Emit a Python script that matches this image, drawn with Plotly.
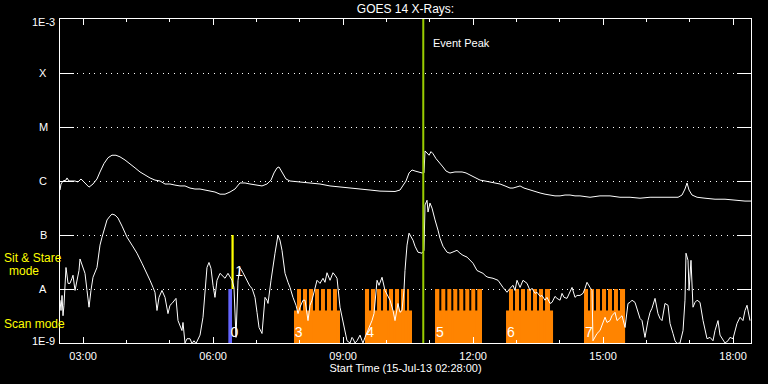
import math
from datetime import datetime, timedelta
import plotly.graph_objects as go

# ---------------- data ----------------
START = datetime(2013, 7, 15, 2, 28)
END_MIN = 956.8  # minutes shown after start

# GOES 14 long channel (1-8 A), minutes after start / flux W m^-2
long_t = [0, 1.4, 4.2, 8.3, 9.7, 12.5, 20.8, 24.9, 29.1, 33.2, 40.2, 45.7, 51.2, 55.4, 60.9,
          66.5, 72.0, 77.5, 83.1, 90.0, 96.9, 103.9, 110.8, 117.7, 124.6, 131.5, 138.5, 145.4,
          152.3, 159.2, 166.2, 173.1, 180.0, 186.9, 193.9, 200.8, 207.7, 214.6, 221.6, 228.5,
          235.4, 242.3, 249.2, 256.2, 263.1, 270.0, 279.7, 286.6, 292.2, 296.3, 300.5, 303.2,
          307.4, 312.9, 318.5, 332.3, 346.2, 360.0, 373.9, 387.7, 401.6, 415.4, 429.3, 443.1,
          463.9, 470.8, 475.0, 479.1, 483.3, 487.4, 491.6, 495.7, 501.3, 504.0, 505.4, 508.2,
          511.0, 513.7, 516.5, 520.6, 526.2, 530.3, 534.5, 540.0, 546.9, 551.1, 556.7, 562.2,
          567.7, 574.7, 581.6, 588.5, 595.4, 602.3, 609.3, 616.2, 623.1, 627.3, 631.4, 637.0,
          642.5, 650.8, 657.7, 664.7, 671.6, 678.5, 685.4, 692.4, 699.3, 706.2, 713.1, 720.0,
          733.9, 747.7, 761.6, 775.4, 789.3, 803.1, 817.0, 830.8, 844.7, 855.8, 861.3, 865.4,
          868.2, 871.0, 875.1, 882.1, 893.1, 907.0, 920.8, 934.7, 948.5, 956.8]
long_flux = [6.8e-7, 8.8e-7, 1.0e-6, 1.04e-6, 1.14e-6, 1.0e-6, 1.0e-6, 9.6e-7, 1.09e-6, 9.6e-7,
             7.7e-7, 8.8e-7, 1.09e-6, 1.47e-6, 2.1e-6, 2.7e-6, 3.0e-6, 3.0e-6, 2.8e-6, 2.45e-6,
             2.1e-6, 1.75e-6, 1.47e-6, 1.29e-6, 1.14e-6, 1.04e-6, 1.0e-6, 8.8e-7, 8.8e-7, 8.4e-7,
             8.1e-7, 8.1e-7, 7.4e-7, 7.1e-7, 7.1e-7, 6.8e-7, 6.5e-7, 6.25e-7, 5.7e-7, 5.7e-7,
             6.25e-7, 7.1e-7, 9.2e-7, 9.2e-7, 8.8e-7, 8.4e-7, 8.1e-7, 8.8e-7, 1.04e-6, 1.41e-6,
             1.75e-6, 1.82e-6, 1.47e-6, 1.09e-6, 1.0e-6, 9.6e-7, 9.2e-7, 8.8e-7, 8.1e-7, 7.7e-7,
             7.4e-7, 7.1e-7, 6.8e-7, 6.5e-7, 6.4e-7, 6.8e-7, 8.1e-7, 1.0e-6, 1.41e-6, 1.6e-6,
             1.53e-6, 1.47e-6, 1.41e-6, 1.41e-6, 3.6e-6, 3.3e-6, 3.0e-6, 3.5e-6, 3.2e-6, 2.6e-6,
             2.16e-6, 1.82e-6, 1.53e-6, 1.41e-6, 1.47e-6, 1.47e-6, 1.47e-6, 1.41e-6, 1.29e-6,
             1.19e-6, 1.04e-6, 1.0e-6, 9.6e-7, 9.2e-7, 8.8e-7, 8.1e-7, 7.4e-7, 7.4e-7, 7.7e-7,
             8.1e-7, 7.4e-7, 6.8e-7, 6.25e-7, 6.0e-7, 5.7e-7, 5.5e-7, 5.3e-7, 5.3e-7, 5.5e-7,
             5.5e-7, 5.3e-7, 5.3e-7, 5.0e-7, 5.3e-7, 5.3e-7, 5.0e-7, 5.0e-7, 4.8e-7, 5.0e-7,
             5.0e-7, 5.0e-7, 5.0e-7, 5.5e-7, 7.1e-7, 9.2e-7, 6.8e-7, 5.5e-7, 5.0e-7, 4.8e-7,
             4.6e-7, 4.6e-7, 4.4e-7, 4.25e-7, 4.25e-7]

# GOES 14 short channel (0.5-4 A)
short_t = [0, 1.4, 2.8, 4.2, 5.5, 8.3, 11.1, 13.8, 16.6, 18.0, 20.8, 23.5, 26.3, 27.7, 30.5,
           34.6, 37.4, 40.2, 42.9, 45.7, 51.2, 55.4, 58.2, 62.3, 65.1, 69.2, 72.0, 76.2, 80.3,
           85.9, 92.8, 99.7, 106.6, 113.5, 120.5, 124.6, 128.8, 131.5, 134.3, 137.1, 141.2,
           145.4, 149.5, 152.3, 155.1, 157.9, 160.6, 163.4, 166.2, 168.9, 170.3, 173.1, 175.9,
           180.0, 182.8, 185.5, 188.3, 191.1, 193.9, 198.0, 200.8, 203.5, 206.3, 209.1, 211.9,
           214.6, 217.4, 221.6, 225.7, 228.5, 232.6, 235.4, 238.2, 240.9, 243.7, 246.5, 249.2,
           253.4, 257.6, 260.3, 263.1, 265.9, 270.0, 272.8, 275.6, 279.7, 282.5, 283.9, 286.6,
           288.0, 292.2, 294.9, 297.7, 301.8, 304.6, 307.4, 311.6, 315.7, 318.5, 322.6, 326.8,
           329.6, 332.3, 336.5, 339.3, 343.4, 346.2, 348.9, 353.1, 355.9, 360.0, 364.2, 366.9,
           369.7, 373.9, 378.0, 380.8, 383.6, 387.7, 391.9, 394.6, 397.4, 401.6, 404.3, 405.7,
           408.5, 411.3, 415.4, 418.2, 419.6, 422.3, 426.5, 429.3, 432.0, 434.8, 437.6, 439.0,
           441.7, 445.9, 450.0, 454.2, 457.0, 461.1, 463.9, 468.0, 470.8, 473.6, 476.3, 477.7,
           480.5, 483.3, 486.0, 488.8, 491.6, 495.7, 501.3, 504.0, 505.4, 508.2, 509.6, 512.3,
           515.1, 516.5, 519.3, 523.4, 526.2, 530.3, 535.9, 540.0, 544.2, 549.7, 553.9, 558.0,
           563.6, 567.7, 571.9, 577.4, 581.6, 585.7, 589.9, 592.6, 599.6, 606.5, 613.4, 619.0,
           623.1, 627.3, 630.0, 632.8, 637.0, 641.1, 646.7, 650.8, 653.6, 657.7, 660.5, 664.7,
           667.4, 671.6, 674.3, 678.5, 681.3, 685.4, 688.2, 692.4, 695.1, 697.9, 702.0, 706.2,
           709.0, 713.1, 715.9, 720.0, 724.2, 727.0, 729.7, 733.9, 736.7, 738.0, 740.8, 743.6,
           747.7, 750.5, 754.7, 757.4, 761.6, 764.3, 768.5, 771.3, 775.4, 778.2, 782.4, 786.5,
           789.3, 792.0, 796.2, 800.4, 803.1, 805.9, 810.0, 814.2, 817.0, 819.7, 823.9, 828.0,
           830.8, 833.6, 837.7, 841.9, 844.7, 848.8, 851.6, 854.4, 858.5, 862.7, 865.4, 866.8,
           869.6, 871.0, 872.4, 873.7, 876.5, 879.3, 882.1, 886.2, 890.4, 893.1, 895.9, 900.1,
           904.2, 907.0, 911.1, 913.9, 916.7, 920.8, 925.0, 927.7, 931.9, 934.7, 937.4, 941.6,
           945.7, 948.5, 951.3, 955.4]
short_flux = [6.2e-9, 4.0e-9, 7.6e-9, 3.2e-9, 5.0e-9, 2.5e-8, 1.27e-8, 1.27e-8, 1.58e-8, 1.8e-8,
              9.4e-9, 1.45e-8, 2.2e-8, 3.6e-8, 2.75e-8, 1.95e-8, 9.4e-9, 4.6e-9, 9.4e-9, 1.65e-8,
              2.5e-8, 6.5e-8, 9.1e-8, 1.46e-7, 1.9e-7, 2.24e-7, 2.44e-7, 2.34e-7, 2.06e-7,
              1.46e-7, 9.1e-8, 6.5e-8, 4.6e-8, 3.0e-8, 1.95e-8, 1.45e-8, 1.07e-8, 8.7e-9, 4.0e-9,
              7.0e-9, 9.4e-9, 7.0e-9, 3.5e-9, 5.0e-9, 5.4e-9, 6.2e-9, 6.7e-9, 2.6e-9, 2.1e-9,
              1.7e-9, 2.4e-9, 1.0e-9, 1.2e-9, 1.2e-9, 9.8e-10, 1.1e-9, 9.8e-10, 1.2e-9, 1.4e-9,
              3.0e-9, 9.4e-9, 2.5e-8, 3.1e-8, 2.4e-8, 1.17e-8, 7.0e-9, 1.45e-8, 1.95e-8, 1.72e-8,
              1.58e-8, 1.95e-8, 1.65e-8, 1.45e-8, 1.07e-8, 1.27e-9, 1.45e-8, 2.5e-8, 2.0e-8,
              1.58e-8, 1.33e-8, 1.12e-8, 1.03e-8, 7.0e-9, 3.7e-9, 1.94e-9, 1.5e-9, 4.0e-9,
              7.0e-9, 6.2e-9, 5.4e-9, 1.45e-8, 2.75e-8, 4.6e-8, 9.9e-8, 8.0e-8, 5.2e-8, 1.95e-8,
              1.33e-8, 1.07e-8, 7.0e-9, 5.0e-9, 3.5e-9, 4.6e-9, 6.2e-9, 6.2e-9, 2.6e-9, 5.0e-9,
              6.2e-9, 1.03e-8, 1.45e-8, 1.27e-8, 1.58e-8, 1.33e-8, 2.0e-8, 1.45e-8, 2.0e-8,
              1.8e-8, 1.58e-8, 4.6e-9, 2.6e-9, 1.7e-9, 1.1e-9, 1.0e-9, 1.27e-9, 1.2e-9, 1.0e-9,
              1.1e-9, 1.4e-9, 1.1e-9, 1.0e-9, 1.27e-9, 1.7e-9, 2.1e-9, 2.6e-9, 3.5e-9, 9.4e-9,
              1.45e-8, 1.17e-8, 1.65e-8, 9.4e-9, 7.3e-9, 6.2e-9, 4.0e-9, 2.6e-9, 5.4e-9, 3.7e-9,
              4.0e-9, 9.4e-9, 2.2e-8, 6.5e-8, 1.08e-7, 9.1e-8, 8.0e-8, 6.2e-8, 4.8e-8, 4.6e-8,
              5.2e-8, 3.6e-7, 4.4e-7, 2.66e-7, 3.9e-7, 3.15e-7, 2.55e-7, 1.9e-7, 1.23e-7, 8.7e-8,
              6.2e-8, 4.8e-8, 4.6e-8, 4.8e-8, 5.2e-8, 4.6e-8, 4.2e-8, 3.9e-8, 3.4e-8, 3.0e-8,
              2.2e-8, 2.1e-8, 1.95e-8, 1.72e-8, 1.65e-8, 1.58e-8, 1.45e-8, 1.07e-8, 8.7e-9,
              1.03e-8, 1.17e-8, 9.4e-9, 1.45e-8, 1.07e-8, 1.45e-8, 1.27e-8, 9.4e-9, 1.03e-8,
              8.3e-9, 8.7e-9, 7.3e-9, 7.6e-9, 6.2e-9, 7.0e-9, 5.4e-9, 5.65e-9, 7.3e-9, 6.7e-9,
              6.2e-9, 8.3e-9, 7.0e-9, 6.7e-9, 8.7e-9, 1.07e-8, 7.0e-9, 7.6e-9, 7.6e-9, 8.3e-9,
              1.03e-8, 1.33e-8, 1.07e-8, 9.4e-9, 1.1e-9, 1.27e-9, 1.5e-9, 1.7e-9, 2.1e-9, 3.0e-9,
              2.4e-9, 2.6e-9, 3.2e-9, 3.7e-9, 2.6e-9, 3.0e-9, 3.2e-9, 1.94e-9, 5.4e-9, 5.65e-9,
              6.2e-9, 5.65e-9, 3.7e-9, 2.85e-9, 2.6e-9, 1.27e-9, 2.6e-9, 3.7e-9, 4.4e-9, 6.7e-9,
              3.5e-9, 2.85e-9, 2.6e-9, 5.4e-9, 5.0e-9, 2.3e-9, 1.5e-9, 1.1e-9, 9.8e-10, 1.0e-9,
              1.7e-9, 6.2e-9, 4.6e-8, 3.4e-8, 9.4e-9, 2.75e-8, 3.4e-8, 4.6e-9, 5.65e-9, 6.2e-9,
              5.65e-9, 2.6e-9, 1.7e-9, 1.2e-9, 1.27e-9, 1.1e-9, 1.7e-9, 2.6e-9, 1.4e-9, 1.2e-9,
              1.0e-9, 1.1e-9, 1.27e-9, 1.2e-9, 1.7e-9, 2.3e-9, 3.0e-9, 2.6e-9, 4.0e-9, 5.0e-9,
              2.6e-9]

# Observation mode timeline (minutes after start)
scan_start = [324.0, 422.3, 519.3, 617.6, 725.6]
scan_end = [387.7, 487.4, 584.3, 682.7, 782.4]
scan_level = 4.0e-9
stare_start = [328.2, 336.5, 344.8, 353.1, 361.4, 369.7, 378.0,
               422.3, 430.6, 439.0, 447.3, 455.6, 463.9, 472.2, 480.5,
               519.3, 528.0, 536.3, 544.6, 552.9, 561.2, 569.5, 577.8,
               621.7, 630.0, 638.3, 646.7, 655.0, 663.3, 671.6,
               725.6, 733.9, 742.2, 750.5, 758.8, 767.1, 775.4]
stare_end = [333.7, 342.0, 350.3, 358.6, 366.9, 375.2, 383.5,
             427.9, 436.2, 444.5, 452.8, 461.1, 469.4, 477.7, 483.3,
             525.2, 533.5, 541.8, 550.1, 558.4, 566.7, 575.0, 584.3,
             627.3, 635.6, 643.9, 652.2, 660.5, 668.8, 678.5,
             731.1, 739.4, 747.7, 756.1, 764.3, 772.6, 782.4]
stare_level = 1.0e-8
obs0_start, obs0_end, obs0_level = 233.1, 238.2, 1.0e-8
mark_start, mark_end, mark_low, mark_high = 237.4, 240.5, 1.0e-8, 1.0e-7

obs_label_t = [241.6, 330.3, 429.3, 526.2, 624.5, 732.5, 247.9]
obs_label_flux = [1.5e-9, 1.5e-9, 1.5e-9, 1.5e-9, 1.5e-9, 1.5e-9, 2.0e-8]
obs_label_text = ["0", "3", "4", "5", "6", "7", "1"]

event_peak_min = 503.0

y_tick_vals = [1e-9, 1e-8, 1e-7, 1e-6, 1e-5, 1e-4, 1e-3]
y_tick_text = ["1E-9", "A", "B", "C", "M", "X", "1E-3"]
x_major_hours = [3, 6, 9, 12, 15, 18]
x_major_text = ["03:00", "06:00", "09:00", "12:00", "15:00", "18:00"]
x_minor_hours = list(range(3, 19))

# --------------- helpers ---------------
def tm(m):
    return START + timedelta(minutes=m)

def hour(h):
    return datetime(2013, 7, 15, h, 0)

Y_FLOOR = 1e-9
Y_TOP = 1e-3

def rects(starts, ends, lows, highs):
    xs, ys = [], []
    for s, e, lo, hi in zip(starts, ends, lows, highs):
        xs += [tm(s), tm(s), tm(e), tm(e), None]
        ys += [lo, hi, hi, lo, None]
    return xs, ys

FONT = "Liberation Sans"
ORANGE = "#ff8400"

fig = go.Figure()

sx, sy = rects(scan_start, scan_end, [Y_FLOOR] * len(scan_start), [scan_level] * len(scan_start))
fig.add_trace(go.Scatter(x=sx, y=sy, mode="lines", fill="toself", fillcolor=ORANGE,
                         line=dict(width=0, color=ORANGE), hoverinfo="skip", showlegend=False))
tx, ty = rects(stare_start, stare_end, [Y_FLOOR] * len(stare_start), [stare_level] * len(stare_start))
fig.add_trace(go.Scatter(x=tx, y=ty, mode="lines", fill="toself", fillcolor=ORANGE,
                         line=dict(width=0, color=ORANGE), hoverinfo="skip", showlegend=False))
bx, by = rects([obs0_start], [obs0_end], [Y_FLOOR], [obs0_level])
fig.add_trace(go.Scatter(x=bx, y=by, mode="lines", fill="toself", fillcolor="#6464ff",
                         line=dict(width=0, color="#6464ff"), hoverinfo="skip", showlegend=False))
yx, yy = rects([mark_start], [mark_end], [mark_low], [mark_high])
fig.add_trace(go.Scatter(x=yx, y=yy, mode="lines", fill="toself", fillcolor="#ffff00",
                         line=dict(width=0, color="#ffff00"), hoverinfo="skip", showlegend=False))

fig.add_trace(go.Scatter(x=[tm(t) for t in long_t], y=long_flux, mode="lines",
                         line=dict(color="white", width=1), showlegend=False))
fig.add_trace(go.Scatter(x=[tm(t) for t in short_t], y=short_flux, mode="lines",
                         line=dict(color="white", width=1), showlegend=False))

fig.add_trace(go.Scatter(x=[tm(event_peak_min), tm(event_peak_min)], y=[Y_FLOOR, Y_TOP],
                         mode="lines", line=dict(color="#99cc00", width=2), showlegend=False))

fig.add_trace(go.Scatter(x=[tm(t) for t in obs_label_t], y=obs_label_flux, mode="text",
                         text=obs_label_text, textposition="middle center",
                         textfont=dict(color="white", size=14, family=FONT),
                         showlegend=False, hoverinfo="skip"))

annotations = []
for v, txt in zip(y_tick_vals, y_tick_text):
    shift = 0
    if txt == "1E-3":
        shift = -3
    elif txt == "1E-9":
        shift = 2
    annotations.append(dict(x=-0.0239, xref="paper", y=math.log10(v), yref="y", text=txt,
                            showarrow=False, xanchor="center", yanchor="middle", yshift=shift,
                            font=dict(color="white", size=11, family=FONT)))
annotations += [
    dict(x=-0.0839, xref="paper", y=0.2616, yref="paper", text="Sit & Stare", showarrow=False,
         xanchor="left", yanchor="middle", font=dict(color="#ffff00", size=12, family=FONT)),
    dict(x=-0.0514, xref="paper", y=0.2214, yref="paper", text="mode", showarrow=False,
         xanchor="center", yanchor="middle", font=dict(color="#ffff00", size=12, family=FONT)),
    dict(x=-0.0839, xref="paper", y=0.0573, yref="paper", text="Scan mode", showarrow=False,
         xanchor="left", yanchor="middle", font=dict(color="#ffff00", size=12, family=FONT)),
    dict(x=tm(event_peak_min), xref="x", y=0.927, yref="paper", text="Event Peak",
         showarrow=False, xanchor="left", yanchor="middle", xshift=8,
         font=dict(color="white", size=11, family=FONT)),
]

fig.update_layout(
    width=768, height=384,
    margin=dict(l=60, r=17, t=19, b=41),
    paper_bgcolor="black", plot_bgcolor="black",
    title=dict(text="GOES 14 X-Rays:", x=0.5, xref="paper", y=1 - 9 / 384, yref="container",
               xanchor="center", yanchor="middle",
               font=dict(color="white", size=12, family=FONT)),
    annotations=annotations,
    showlegend=False,
    font=dict(family=FONT, color="white", size=11),
)
fig.update_xaxes(
    type="date", range=[START, tm(END_MIN)],
    tickmode="array", tickvals=[hour(h) for h in x_major_hours], ticktext=x_major_text,
    ticks="inside", ticklen=6, tickcolor="white", tickwidth=1, ticklabelstandoff=3,
    minor=dict(tickmode="array", tickvals=[hour(h) for h in x_minor_hours], ticks="inside",
               ticklen=3, tickcolor="white", showgrid=False),
    showgrid=False, zeroline=False, showline=True, linecolor="white", linewidth=1,
    mirror="allticks", tickfont=dict(color="white", size=11, family=FONT),
    title=dict(text="Start Time (15-Jul-13 02:28:00)", standoff=3,
               font=dict(color="white", size=11, family=FONT)),
)
fig.update_yaxes(
    type="log", range=[math.log10(Y_FLOOR), math.log10(Y_TOP)],
    tickmode="array", tickvals=y_tick_vals, showticklabels=False,
    ticks="inside", ticklen=14, tickcolor="white", tickwidth=1,
    showgrid=True, gridcolor="white", gridwidth=1, griddash="1px,4.7px",
    zeroline=False, showline=True, linecolor="white", linewidth=1, mirror="allticks",
)

fig.write_html("out.html", config={"displayModeBar": False},
               post_script="document.body.style.margin='0';document.body.style.background='black';")
